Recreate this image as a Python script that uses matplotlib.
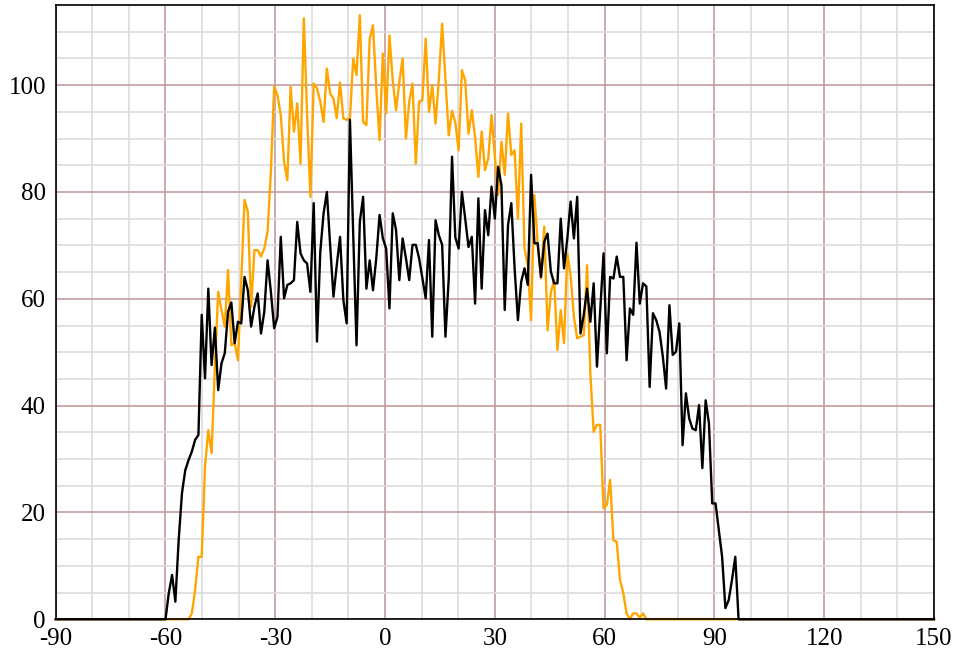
import numpy as np
import matplotlib
matplotlib.use("Agg")
import matplotlib.pyplot as plt
from matplotlib.ticker import MultipleLocator

# ---- data ----
x_start = -60.0
x_step = 0.9
x_min, x_max = -90, 150

black_values = [
    0, 4.9, 8.3, 3.3, 14.8, 23.6, 27.9, 29.8, 31.4, 33.6,
    34.5, 57.0, 45.1, 61.9, 47.6, 54.6, 42.9, 47.9, 49.8, 57.6,
    59.3, 51.7, 55.7, 55.4, 64.1, 61.6, 54.8, 58.5, 61.0, 53.5,
    57.6, 67.2, 61.3, 54.5, 56.6, 71.6, 60.1, 62.6, 62.9, 63.5,
    74.4, 68.5, 67.2, 66.6, 61.3, 77.9, 52.0, 68.8, 76.0, 80.0,
    70.0, 60.4, 66.3, 71.6, 59.8, 55.4, 93.5, 72.0, 51.3, 74.4,
    79.1, 61.9, 67.2, 61.6, 67.6, 75.7, 71.3, 69.4, 58.2, 76.0,
    72.9, 63.5, 71.3, 67.6, 63.5, 70.1, 70.1, 67.6, 63.8, 60.1,
    71.0, 52.9, 74.7, 71.9, 70.1, 52.9, 63.8, 86.6, 71.5, 69.4,
    80.0, 75.0, 69.7, 71.6, 59.1, 78.8, 61.9, 76.6, 71.9, 81.0,
    75.0, 84.7, 81.3, 57.9, 73.8, 77.9, 65.7, 56.0, 63.2, 65.7,
    62.6, 83.2, 70.4, 70.4, 64.1, 70.7, 72.2, 65.1, 62.9, 62.9,
    75.0, 65.7, 71.3, 78.2, 71.3, 79.1, 53.5, 57.0, 61.9, 55.7,
    62.9, 47.3, 57.9, 68.5, 49.8, 64.1, 63.8, 67.9, 64.1, 64.1,
    48.5, 58.2, 57.0, 70.5, 59.1, 62.9, 62.3, 43.5, 57.3, 56.0,
    53.8, 49.2, 43.2, 58.8, 49.5, 50.1, 55.4, 32.6, 42.3, 37.6,
    35.7, 35.4, 40.1, 28.3, 41.0, 36.7, 21.7, 21.7, 16.7, 11.7,
    2.1, 3.6, 7.4, 11.7, 0,
]

orange_values = [
    0, 0, 0, 0, 0, 0, 0, 0, 1.1, 5.5,
    11.7, 11.7, 28.6, 35.4, 31.1, 47.3, 61.3, 57.9, 54.8, 65.4,
    51.3, 51.7, 48.5, 63.5, 78.5, 76.3, 58.5, 69.1, 69.1, 67.9,
    69.4, 72.6, 83.8, 99.7, 98.1, 94.4, 85.7, 82.2, 99.7, 91.3,
    96.6, 85.3, 112.5, 94.4, 79.1, 100.3, 99.4, 96.9, 93.1, 103.1,
    98.4, 97.5, 93.8, 100.5, 93.8, 93.5, 93.8, 105.0, 101.9, 113.1,
    93.1, 92.5, 108.7, 111.2, 99.4, 89.7, 105.9, 94.7, 109.3, 100.9,
    95.3, 100.6, 105.0, 90.0, 96.9, 100.3, 85.3, 96.9, 97.2, 108.7,
    95.0, 100.0, 92.8, 101.2, 111.5, 100.9, 90.6, 95.2, 93.0, 87.8,
    102.8, 100.9, 90.9, 95.3, 90.3, 82.8, 91.3, 84.1, 86.3, 94.4,
    86.6, 79.4, 89.4, 83.2, 94.7, 86.9, 87.8, 75.0, 92.8, 69.4,
    66.3, 56.0, 79.4, 70.4, 63.8, 73.5, 54.1, 61.2, 63.5, 50.4,
    57.9, 51.7, 68.5, 64.4, 56.6, 52.6, 52.9, 53.2, 66.3, 46.0,
    35.1, 36.4, 36.4, 20.8, 21.4, 26.1, 14.8, 14.5, 7.4, 4.9,
    1.1, 0, 1.1, 1.1, 0.3, 1.1, 0, 0, 0, 0,
    0, 0, 0, 0, 0, 0, 0, 0, 0, 0,
    0, 0, 0, 0, 0, 0, 0, 0, 0, 0,
    0, 0, 0, 0, 0,
]

x_ticks = [-90, -60, -30, 0, 30, 60, 90, 120, 150]
y_ticks = [0, 20, 40, 60, 80, 100]

# ---- build x and pad to full range with zeros ----
n = len(black_values)
angles = x_start + x_step * np.arange(n)
xs = np.concatenate([[x_min], angles, [x_max]])
black = np.concatenate([[0], black_values, [0]])
orange = np.concatenate([[0], orange_values, [0]])

plt.rcParams['font.family'] = ['Liberation Serif', 'DejaVu Serif']

fig = plt.figure(figsize=(9.58, 6.55), dpi=100)
ax = fig.add_axes([55.7 / 958, 1 - 619.3 / 655, (934 - 55.7) / 958, (619.3 - 5) / 655])

ax.set_xlim(x_min, x_max)
ax.set_ylim(0, 115)

ax.xaxis.set_minor_locator(MultipleLocator(10))
ax.yaxis.set_minor_locator(MultipleLocator(5))
ax.set_xticks(x_ticks)
ax.set_yticks(y_ticks)
ax.set_xticklabels([str(t) for t in x_ticks])
ax.set_yticklabels([str(t) for t in y_ticks])

ax.grid(which='minor', color='#dcdcdc', linewidth=1.2, zorder=0)
ax.grid(which='major', color='#c49c9c', linewidth=1.2, zorder=0.5)
ax.set_axisbelow(True)

ax.plot(xs, orange, color='#FFA500', linewidth=1.7, zorder=3, clip_on=False)
ax.plot(xs, black, color='#000000', linewidth=1.7, zorder=4, clip_on=False)

for s in ax.spines.values():
    s.set_color('black')
    s.set_linewidth(1.2)
    s.set_zorder(5)

ax.tick_params(which='both', length=0)
ax.tick_params(axis='y', pad=7, labelsize=18)
ax.tick_params(axis='x', pad=6, labelsize=18)

fig.savefig('out.png', dpi=100)
